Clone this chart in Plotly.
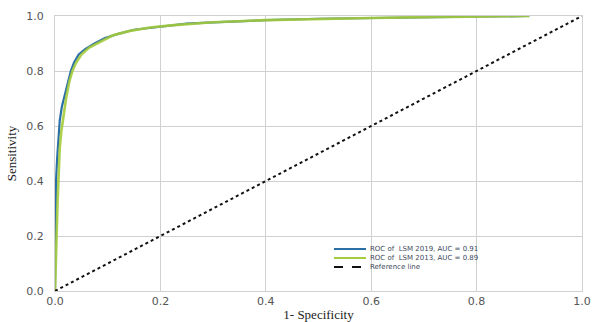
import plotly.graph_objects as go

fpr_2019 = [0.0, 0.001, 0.002, 0.004, 0.006, 0.009, 0.013, 0.018, 0.024, 0.030, 0.036, 0.045, 0.058, 0.075, 0.095, 0.12, 0.15, 0.2, 0.25, 0.3, 0.4, 0.5, 0.6, 0.7, 0.8, 0.9]
tpr_2019 = [0.0, 0.30, 0.40, 0.48, 0.55, 0.62, 0.67, 0.71, 0.75, 0.80, 0.83, 0.86, 0.88, 0.90, 0.92, 0.935, 0.95, 0.962, 0.972, 0.977, 0.985, 0.99, 0.993, 0.995, 0.998, 1.0]

fpr_2013 = [0.0, 0.001, 0.003, 0.005, 0.007, 0.009, 0.012, 0.016, 0.021, 0.027, 0.033, 0.040, 0.050, 0.065, 0.085, 0.11, 0.14, 0.18, 0.22, 0.3, 0.4, 0.5, 0.6, 0.7, 0.8, 0.9]
tpr_2013 = [0.0, 0.10, 0.20, 0.33, 0.43, 0.52, 0.58, 0.64, 0.70, 0.76, 0.80, 0.83, 0.86, 0.885, 0.905, 0.93, 0.945, 0.958, 0.966, 0.977, 0.985, 0.99, 0.993, 0.996, 0.998, 1.0]

ref_x = [0.0, 1.0]
ref_y = [0.0, 1.0]

tick_vals = [0.0, 0.2, 0.4, 0.6, 0.8, 1.0]
tick_text = ["0.0", "0.2", "0.4", "0.6", "0.8", "1.0"]

series_names = ["ROC of  LSM 2019, AUC = 0.91", "ROC of  LSM 2013, AUC = 0.89", "Reference line"]
series_colors = ["#2a6fa6", "#a5cc3c", "#111111"]

fig = go.Figure()
fig.add_trace(go.Scatter(x=fpr_2019, y=tpr_2019, mode="lines", name=series_names[0],
                         line=dict(color=series_colors[0], width=2.2)))
fig.add_trace(go.Scatter(x=fpr_2013, y=tpr_2013, mode="lines", name=series_names[1],
                         line=dict(color=series_colors[1], width=2.6), opacity=0.9))
fig.add_trace(go.Scatter(x=ref_x, y=ref_y, mode="lines", name=series_names[2],
                         line=dict(color=series_colors[2], width=2, dash="dot")))

# compact legend drawn in paper coordinates (plot area: x 55..582, y 16..291)
W, H = 595, 322
L, R, T, B = 55, 13, 16, 31
pw, ph = W - L - R, H - T - B
def px(x): return (x - L) / pw
def py(y): return (H - B - y) / ph
legend_rows = [249, 258, 267]
legend_dash = ["solid", "solid", "dash"]
for col, yy, dsh in zip(series_colors, legend_rows, legend_dash):
    fig.add_shape(type="line", xref="paper", yref="paper",
                  x0=px(334), x1=px(366), y0=py(yy), y1=py(yy),
                  line=dict(color=col, width=2, dash=dsh))
fig.add_annotation(xref="paper", yref="paper", x=px(369), y=py(legend_rows[1]),
                   text="<br>".join(series_names), showarrow=False, align="left",
                   xanchor="left", yanchor="middle", borderpad=0,
                   font=dict(family="DejaVu Sans", size=7, color="#3d4a5c"))

fig.update_layout(
    width=W, height=H,
    margin=dict(l=L, r=R, t=T, b=B),
    paper_bgcolor="white", plot_bgcolor="white",
    showlegend=False,
)
fig.update_xaxes(range=[0, 1], tickvals=tick_vals, ticktext=tick_text,
                 showgrid=True, gridcolor="#d0d0d0", gridwidth=1.2,
                 showline=True, linecolor="#d0d0d0", mirror=True, zeroline=False,
                 automargin=False,
                 tickfont=dict(family="DejaVu Sans", size=11, color="#555"),
                 title=dict(text="1- Specificity", font=dict(family="Liberation Serif", size=13, color="#222"), standoff=2))
fig.update_yaxes(range=[0, 1], tickvals=tick_vals, ticktext=tick_text,
                 showgrid=True, gridcolor="#d0d0d0", gridwidth=1.2,
                 showline=True, linecolor="#d0d0d0", mirror=True, zeroline=False,
                 automargin=False, ticklabelstandoff=8,
                 tickfont=dict(family="DejaVu Sans", size=11, color="#555"),
                 title=dict(text="Sensitivity", font=dict(family="Liberation Serif", size=13, color="#222"), standoff=6))

fig.write_html("out.html", config={"displayModeBar": False},
               post_script="document.body.style.margin='0';")
